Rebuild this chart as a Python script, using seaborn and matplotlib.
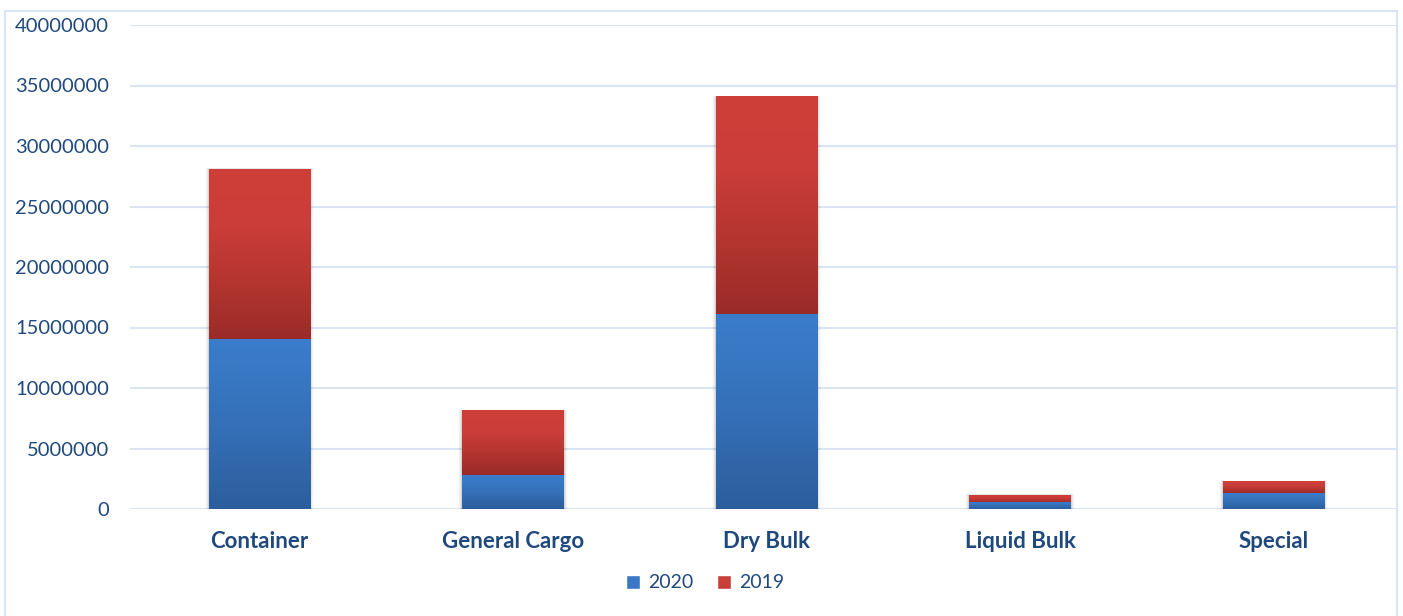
import numpy as np
import pandas as pd
import matplotlib
matplotlib.use("Agg")
import matplotlib.pyplot as plt
import matplotlib.patches as mpatches
from matplotlib.colors import LinearSegmentedColormap
import seaborn as sns

categories = ["Container", "General Cargo", "Dry Bulk", "Liquid Bulk", "Special"]
values_2020 = [14000000, 2800000, 16100000, 500000, 1250000]
values_2019 = [14100000, 5300000, 17950000, 660000, 1000000]
yticks = [0, 5000000, 10000000, 15000000, 20000000, 25000000, 30000000, 35000000, 40000000]

sns.set_theme(style="white")
plt.rcParams['font.family'] = ['Lato', 'DejaVu Sans']

df = pd.DataFrame({
    "category": categories,
    "y2020": values_2020,
    "total": [a + b for a, b in zip(values_2020, values_2019)],
})

fig = plt.figure(figsize=(14.03, 6.16), dpi=100)
ax = fig.add_axes([130/1403, 1 - 509/616, (1397-130)/1403, (509-25)/616])

label_col = "#1f497d"
grid_col = "#d9e4f4"

sns.barplot(data=df, x="category", y="total", color="#c9403a", width=0.4, ax=ax,
            saturation=1, zorder=2)
sns.barplot(data=df, x="category", y="y2020", color="#3a78c6", width=0.4, ax=ax,
            saturation=1, zorder=3)

red_cmap = LinearSegmentedColormap.from_list("r", ["#992b29", "#b4352f", "#cb3d39", "#cf3f3a"])
blue_cmap = LinearSegmentedColormap.from_list("b", ["#2c5e9c", "#3570b8", "#3b7dcc"])
grad = np.linspace(0, 1, 256).reshape(-1, 1)

red_patches = ax.containers[0].patches
blue_patches = ax.containers[1].patches
for rp, bp in zip(red_patches, blue_patches):
    x, w = rp.get_x(), rp.get_width()
    top = rp.get_height()
    mid = bp.get_height()
    rp.set_visible(False)
    bp.set_visible(False)
    # soft shadow
    for k, a in enumerate([0.07, 0.05, 0.03, 0.015]):
        dx = (k + 1) * 0.004
        dy = (k + 1) * 80000
        ax.add_patch(mpatches.Rectangle((x - dx, -dy), w + 2 * dx, top + dy * 0.3 + dy,
                                        facecolor="black", alpha=a, edgecolor="none",
                                        zorder=1.5, clip_on=True))
    ax.imshow(grad, cmap=red_cmap, origin="lower", aspect="auto",
              extent=[x, x + w, mid, top], zorder=2, interpolation="bicubic")
    ax.imshow(grad, cmap=blue_cmap, origin="lower", aspect="auto",
              extent=[x, x + w, 0, mid], zorder=3, interpolation="bicubic")

ax.set_xlim(-0.512, 4.488)
ax.set_ylim(0, 40000000)
ax.set_yticks(yticks)
ax.set_yticklabels([str(v) for v in yticks])
ax.yaxis.grid(True, color=grid_col, linewidth=1.5, zorder=0)
ax.set_axisbelow(True)
for s in ax.spines.values():
    s.set_visible(False)
ax.set_xlabel("")
ax.set_ylabel("")
ax.tick_params(axis="y", length=0, pad=15, labelsize=14.5, labelcolor=label_col)
ax.tick_params(axis="x", length=0, pad=16, labelsize=16, labelcolor=label_col)
for t in ax.get_xticklabels():
    t.set_fontweight("bold")

handles = [mpatches.Patch(facecolor="#3a78c6", label="2020"),
           mpatches.Patch(facecolor="#c9403a", label="2019")]
fig.legend(handles=handles, loc="center", bbox_to_anchor=(705/1403, 1 - 583/616), ncol=2,
           frameon=False, fontsize=14, handlelength=0.75, handleheight=0.75,
           handletextpad=0.4, columnspacing=1.2, labelcolor=label_col)

fig.add_artist(mpatches.Rectangle((5/1403, -0.01), (1397-5)/1403, 1 - 11/616 + 0.01,
                                  transform=fig.transFigure, facecolor="none",
                                  edgecolor=grid_col, linewidth=1.5))

fig.savefig("out.png", dpi=100)
